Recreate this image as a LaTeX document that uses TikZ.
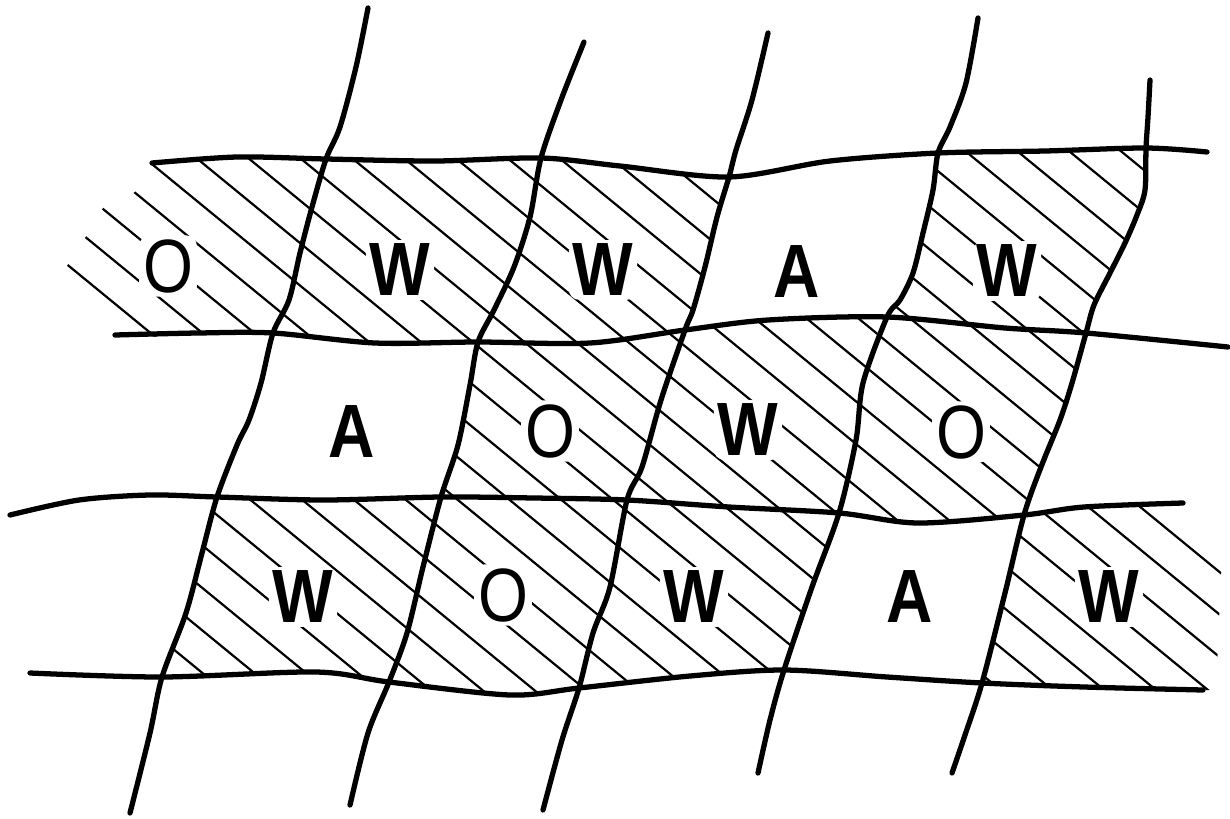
\documentclass[tikz,border=0pt]{standalone}
\usepackage{fontspec}
\newfontfamily\cellfont[FakeStretch=0.85]{Liberation Sans}

\tikzset{
  rule/.style={line width=3pt, line cap=round, line join=round},
  hatch/.style={line width=1.25pt},
  letter/.style={fill=white, inner sep=2.2pt, rounded corners=6pt},
  boldletter/.style={letter, font=\cellfont\bfseries\fontsize{43}{46}\selectfont},
  thinletter/.style={letter, font=\cellfont\fontsize{43}{46}\selectfont},
}

\begin{document}
\begin{tikzpicture}[x=0.02cm, y=-0.02cm]
  \useasboundingbox (0,0) rectangle (1230,818);

  % crossings
  \coordinate (a1) at (326,159);  \coordinate (b1) at (541,158);
  \coordinate (c1) at (729,177);  \coordinate (d1) at (938,153);
  \coordinate (e1) at (1146,148);
  \coordinate (a2) at (273,333);  \coordinate (b2) at (478,342);
  \coordinate (c2) at (685,330);  \coordinate (d2) at (887,317);
  \coordinate (e2) at (1086,333);
  \coordinate (a3) at (217,497);  \coordinate (b3) at (441,497);
  \coordinate (c3) at (627,500);  \coordinate (d3) at (839,513);
  \coordinate (e3) at (1024,515);
  \coordinate (a4) at (162,677);  \coordinate (b4) at (389,682);
  \coordinate (c4) at (579,688);  \coordinate (d4) at (784,670);
  \coordinate (e4) at (982,683);

  % hatched cells
  \begin{scope}
    \clip (152,163) -- (237,157) -- (a1) -- (312,207) -- (300,253) -- (289,300) -- (a2)
          -- (198,333) -- (150,337) -- (67,266) -- (85,238) -- (103,208) -- (135,192) -- cycle
      (a1) -- (435,161) -- (b1) -- (530,217) -- (514,267) -- (494,310) -- (b2)
          -- (375,343) -- (a2) -- (289,300) -- (300,253) -- (312,207) -- cycle
      (b1) -- (620,166) -- (c1) -- (717,217) -- (705,267) -- (693,310) -- (c2)
          -- (590,343) -- (b2) -- (494,310) -- (514,267) -- (530,217) -- cycle
      (d1) -- (1045,151) -- (e1) -- (1145,190) -- (1137,215) -- (1125,243) -- (1110,273)
          -- (1094,305) -- (e2) -- (1005,328) -- (d2) -- (900,300) -- (913,273) -- (923,233)
          -- (933,190) -- cycle
      (b2) -- (590,343) -- (c2) -- (661,400) -- (642,467) -- (c3) -- (534,498) -- (b3)
          -- (458,445) -- (470,385) -- cycle
      (c2) -- (768,320) -- (d2) -- (863,383) -- (856,440) -- (d3) -- (729,507) -- (c3)
          -- (642,467) -- (661,400) -- cycle
      (d2) -- (1005,328) -- (e2) -- (1072,383) -- (1060,420) -- (1041,467) -- (e3)
          -- (918,523) -- (d3) -- (856,440) -- (863,383) -- cycle
      (a3) -- (324,500) -- (b3) -- (423,567) -- (407,633) -- (b4) -- (316,672) -- (a4)
          -- (186,613) -- (202,553) -- cycle
      (b3) -- (534,498) -- (c3) -- (610,587) -- (593,633) -- (c4) -- (510,695) -- (b4)
          -- (407,633) -- (423,567) -- cycle
      (c3) -- (729,507) -- (d3) -- (812,587) -- (d4) -- (690,676) -- (c4) -- (593,633)
          -- (610,587) -- cycle
      (e3) -- (1084,507) -- (1183,503) -- (1222,550) -- (1216,690) -- (1203,690)
          -- (1084,687) -- (e4) -- (1005,593) -- cycle;
    \foreach \k in {-24,...,20}
      \draw[hatch] (0,{-3+42.5*(\k)}) -- ++(1230,1008.6);
  \end{scope}

  % horizontal rules
  \draw[rule] plot[smooth] coordinates {(152,163) (237,157) (a1) (435,161) (b1) (620,166)
    (c1) (830,161) (d1) (1045,151) (e1) (1207,152)};
  \draw[rule] plot[smooth] coordinates {(115,335) (198,333) (a2) (375,343) (b2) (590,343)
    (c2) (768,320) (d2) (1005,328) (e2) (1228,347)};
  \draw[rule] plot[smooth] coordinates {(10,515) (79,500) (150,495) (a3) (324,500) (b3)
    (534,498) (c3) (729,507) (d3) (918,523) (e3) (1084,507) (1183,503)};
  \draw[rule] plot[smooth] coordinates {(30,673) (a4) (316,672) (b4) (510,695) (c4)
    (690,676) (d4) (887,677) (e4) (1084,687) (1203,690)};

  % slanted rules
  \draw[rule] plot[smooth] coordinates {(368,8) (356,67) (340,127) (a1) (312,207) (300,253)
    (289,300) (a2) (261,383) (249,420) (237,445) (a3) (202,553) (186,613) (a4) (150,733)
    (130,813)};
  \draw[rule] plot[smooth] coordinates {(584,42) (561,100) (b1) (530,217) (514,267)
    (494,310) (b2) (470,385) (458,445) (b3) (423,567) (407,633) (b4) (368,733) (350,805)};
  \draw[rule] plot[smooth] coordinates {(768,33) (752,100) (736,150) (c1) (717,217)
    (705,267) (693,310) (c2) (661,400) (642,467) (c3) (610,587) (593,633) (c4) (562,740)
    (543,810)};
  \draw[rule] plot[smooth] coordinates {(978,18) (966,83) (950,127) (d1) (933,190)
    (923,233) (913,273) (900,300) (d2) (863,383) (856,440) (d3) (812,587) (d4) (770,720)
    (758,773)};
  \draw[rule] plot[smooth] coordinates {(1150,80) (1148,117) (e1) (1145,190) (1137,215)
    (1125,243) (1110,273) (1094,305) (e2) (1072,383) (1060,420) (1041,467) (e3)
    (1005,593) (e4) (965,735) (952,773)};

  % cell letters
  \node[thinletter] (o11) at (168,266) {O};
  \node[boldletter] (w12) at (400,270) {W};
  \node[boldletter] (w13) at (603,270) {W};
  \node[boldletter] (a14) at (797,272) {A};
  \node[boldletter] (w15) at (1007,271) {W};

  \node[boldletter] (a22) at (352,432) {A};
  \node[thinletter] (o23) at (550,431) {O};
  \node[boldletter] (w24) at (748,430) {W};
  \node[thinletter] (o25) at (961,432) {O};

  \node[boldletter] (w32) at (303,597) {W};
  \node[thinletter] (o33) at (503,595) {O};
  \node[boldletter] (w34) at (694,597) {W};
  \node[boldletter] (a35) at (910,597) {A};
  \node[boldletter] (w36) at (1109,597) {W};
\end{tikzpicture}
\end{document}
